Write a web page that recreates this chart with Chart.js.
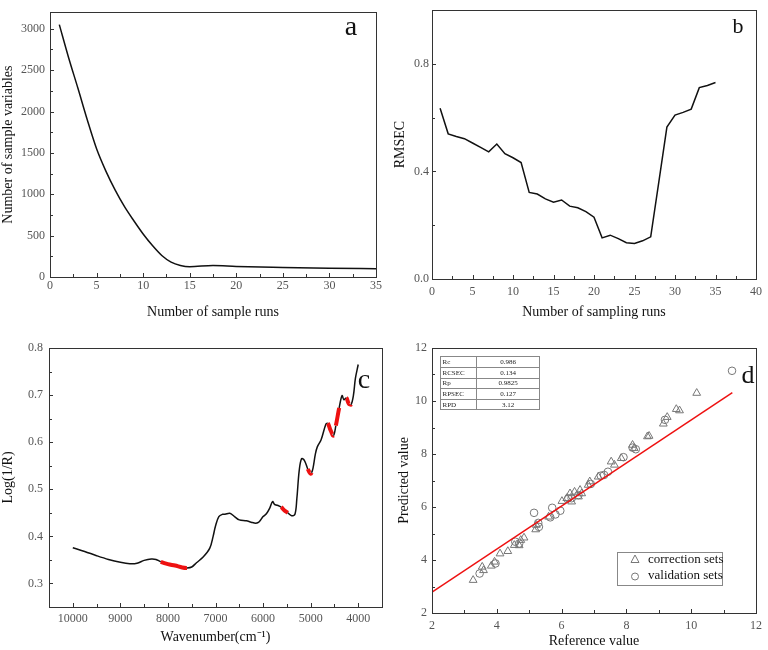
<!DOCTYPE html>
<html>
<head>
<meta charset="utf-8">
<script src="https://cdn.jsdelivr.net/npm/chart.js@4.4.0/dist/chart.umd.min.js"></script>
<style>
  body { margin: 0; background: #fff; }
  #wrap { position: relative; width: 768px; height: 650px; }
  canvas { position: absolute; }
</style>
</head>
<body>
<div id="wrap">
  <canvas id="chartA" width="384" height="325" style="left:0;top:0"></canvas>
  <canvas id="chartB" width="384" height="325" style="left:384px;top:0"></canvas>
  <canvas id="chartC" width="384" height="325" style="left:0;top:325px"></canvas>
  <canvas id="chartD" width="384" height="325" style="left:384px;top:325px"></canvas>
</div>
<script>
// ---- panel a: variables kept per sampling run
const runsA = [1, 2, 3, 4, 5, 6, 7, 8, 9, 10, 11, 12, 13, 14, 15, 17.5, 20, 25, 30, 35];
const variablesA = [3050, 2650, 2280, 1900, 1550, 1280, 1050, 850, 680, 520, 380, 260, 180, 140, 125, 138, 128, 116, 106, 100];
const xTicksA = [0, 5, 10, 15, 20, 25, 30, 35];
const yTicksA = [0, 500, 1000, 1500, 2000, 2500, 3000];

// ---- panel b: RMSEC per sampling run
const runsB = [1, 2, 3, 4, 5, 6, 7, 8, 9, 10, 11, 12, 13, 14, 15, 16, 17, 18, 19, 20, 21, 22, 23, 24, 25, 26, 27, 28, 29, 30, 31, 32, 33, 34, 35];
const rmsecB = [0.635, 0.54, 0.53, 0.522, 0.506, 0.49, 0.473, 0.502, 0.466, 0.451, 0.433, 0.322, 0.316, 0.298, 0.286, 0.294, 0.271, 0.265, 0.251, 0.23,
  0.153, 0.163, 0.15, 0.135, 0.132, 0.142, 0.157, 0.36, 0.565, 0.61, 0.62, 0.632, 0.712, 0.72, 0.731];
const xTicksB = [0, 5, 10, 15, 20, 25, 30, 35, 40];
const yTicksB = [0, 0.4, 0.8];

// ---- panel c: spectrum, red = selected wavenumber ranges
const wavenumberC = [10000, 9750, 9500, 9250, 9000, 8800, 8650, 8500, 8350, 8250, 8150, 8000, 7850, 7700, 7600, 7500, 7400, 7260, 7120, 7050,
  7000, 6930, 6850, 6800, 6700, 6600, 6500, 6350, 6250, 6150, 6080, 6000, 5930, 5860, 5800, 5760, 5700, 5620, 5550, 5480,
  5400, 5330, 5290, 5240, 5190, 5130, 5060, 5030, 5000, 4980, 4950, 4900, 4860, 4780, 4680, 4640, 4580, 4520, 4470, 4400,
  4340, 4300, 4250, 4200, 4150, 4100, 4060, 4000];
const absorbanceC = [0.376, 0.368, 0.359, 0.351, 0.345, 0.342, 0.343, 0.349, 0.352, 0.351, 0.346, 0.341, 0.338, 0.334, 0.333, 0.335, 0.344, 0.356, 0.375, 0.4,
  0.422, 0.442, 0.447, 0.447, 0.449, 0.442, 0.435, 0.433, 0.43, 0.428, 0.431, 0.442, 0.448, 0.46, 0.474, 0.468, 0.466, 0.462, 0.455, 0.45,
  0.444, 0.447, 0.48, 0.54, 0.565, 0.561, 0.543, 0.537, 0.533, 0.535, 0.545, 0.575, 0.59, 0.605, 0.638, 0.64, 0.625, 0.614, 0.635, 0.673,
  0.699, 0.69, 0.694, 0.682, 0.68, 0.7, 0.735, 0.765];
const redRangesC = [[8150, 7600], [5620, 5480], [5060, 4980], [4640, 4520], [4470, 4400], [4250, 4150]];
const xTicksC = [10000, 9000, 8000, 7000, 6000, 5000, 4000];
const yTicksC = [0.3, 0.4, 0.5, 0.6, 0.7, 0.8];

// ---- panel d: reference vs predicted
const corrRef = [3.27, 3.55, 3.59, 3.83, 3.93, 4.1, 4.34, 4.54, 4.69, 4.74, 4.84, 5.2, 5.22, 5.6, 6.01, 6.16, 6.26, 6.31, 6.4, 6.52,
  6.57, 6.62, 6.82, 6.87, 7.13, 7.53, 7.63, 7.84, 8.19, 8.24, 8.65, 8.7, 9.14, 9.26, 9.54, 9.64, 10.17];
const corrPred = [3.24, 3.74, 3.61, 3.78, 3.93, 4.24, 4.33, 4.56, 4.55, 4.75, 4.84, 5.15, 5.32, 5.63, 6.22, 6.33, 6.51, 6.2, 6.57, 6.39,
  6.64, 6.51, 6.83, 6.96, 7.14, 7.71, 7.59, 7.84, 8.34, 8.22, 8.66, 8.68, 9.14, 9.39, 9.69, 9.64, 10.3];
const valRef = [3.47, 3.96, 4.57, 4.69, 5.15, 5.3, 5.28, 5.71, 5.65, 5.81, 5.96, 6.21, 6.31, 6.52, 6.9, 7.21, 7.31, 7.43, 7.91, 8.19, 8.29, 9.19, 11.26];
const valPred = [3.49, 3.87, 4.69, 4.62, 5.78, 5.25, 5.4, 5.97, 5.61, 5.72, 5.86, 6.33, 6.33, 6.45, 6.87, 7.18, 7.21, 7.33, 7.88, 8.24, 8.18, 9.29, 11.14];
const fitX = [2, 11.27];
const fitY = [2.79, 10.32];
const tableNames = ['Rc', 'RCSEC', 'Rp', 'RPSEC', 'RPD'];
const tableValues = ['0.986', '0.134', '0.9825', '0.127', '3.12'];
const legendNames = ['correction sets', 'validation sets'];
const xTicksD = [2, 4, 6, 8, 10, 12];
const yTicksD = [2, 4, 6, 8, 10, 12];

const SERIF = "'Liberation Serif', 'Times New Roman', serif";
const tickFont = { family: SERIF, size: 12 };
const titleFont = { family: SERIF, size: 14 };
const tickColor = '#555';
const MARK = '#777';

const zip = (xs, ys) => xs.map((x, i) => ({ x: x, y: ys[i] }));

// frame, inward tick marks, panel letter and extras (table / legend)
const panelDecor = {
  id: 'panelDecor',
  afterDraw(chart, args, opts) {
    const { ctx, chartArea: a, scales } = chart;
    ctx.save();
    ctx.strokeStyle = '#333';
    ctx.lineWidth = 1;
    ctx.strokeRect(Math.round(a.left) + 0.5, Math.round(a.top) + 0.5, Math.round(a.width), Math.round(a.height));

    const marks = (scale) => {
      const vals = scale.ticks.map(t => t.value);
      const step = vals[1] - vals[0];
      const lo = Math.min(scale.min, scale.max), hi = Math.max(scale.min, scale.max);
      const out = [];
      vals.forEach(v => {
        out.push([v, 4]);
        const m = v + step / 2;
        if (m > lo && m < hi) out.push([m, 3]);
      });
      const m0 = vals[0] - step / 2;
      if (m0 > lo) out.push([m0, 3]);
      return out;
    };
    ctx.beginPath();
    marks(scales.x).forEach(([v, len]) => {
      const px = Math.round(scales.x.getPixelForValue(v)) + 0.5;
      ctx.moveTo(px, a.bottom);
      ctx.lineTo(px, a.bottom - len);
    });
    marks(scales.y).forEach(([v, len]) => {
      const py = Math.round(scales.y.getPixelForValue(v)) + 0.5;
      ctx.moveTo(a.left, py);
      ctx.lineTo(a.left + len, py);
    });
    ctx.stroke();

    ctx.fillStyle = '#111';
    ctx.textAlign = 'center';
    ctx.textBaseline = 'alphabetic';
    ctx.font = opts.letterSize + 'px ' + SERIF;
    ctx.fillText(opts.letter, opts.letterX, opts.letterY);

    if (opts.table) {
      const L = 56.5, T = 31.5, R = 155.5, C = 92.5, rh = 10.6;
      ctx.strokeStyle = '#888';
      ctx.strokeRect(L, T, R - L, rh * tableNames.length);
      ctx.beginPath();
      for (let i = 1; i < tableNames.length; i++) {
        ctx.moveTo(L, Math.round(T + rh * i) + 0.5);
        ctx.lineTo(R, Math.round(T + rh * i) + 0.5);
      }
      ctx.moveTo(C, T);
      ctx.lineTo(C, T + rh * tableNames.length);
      ctx.stroke();
      ctx.font = '7px ' + SERIF;
      ctx.fillStyle = '#222';
      ctx.textBaseline = 'middle';
      tableNames.forEach((n, i) => {
        ctx.textAlign = 'left';
        ctx.fillText(n, L + 2, T + rh * i + rh / 2 + 0.5);
        ctx.textAlign = 'center';
        ctx.fillText(tableValues[i], (C + R) / 2, T + rh * i + rh / 2 + 0.5);
      });
    }

    if (opts.legend) {
      ctx.strokeStyle = '#888';
      ctx.strokeRect(233.5, 227.5, 105, 33);
      ctx.strokeStyle = MARK;
      ctx.lineWidth = 1;
      ctx.beginPath();
      ctx.moveTo(251, 230);
      ctx.lineTo(255, 237.5);
      ctx.lineTo(247, 237.5);
      ctx.closePath();
      ctx.stroke();
      ctx.beginPath();
      ctx.arc(251, 251.5, 3.5, 0, Math.PI * 2);
      ctx.stroke();
      ctx.fillStyle = '#111';
      ctx.font = '13px ' + SERIF;
      ctx.textAlign = 'left';
      ctx.textBaseline = 'middle';
      ctx.fillText(legendNames[0], 264, 235);
      ctx.fillText(legendNames[1], 264, 251);
    }
    ctx.restore();
  }
};

function axis(opts) {
  return {
    type: 'linear',
    min: opts.min,
    max: opts.max,
    reverse: !!opts.reverse,
    afterFit(s) { if (opts.width) s.width = opts.width; if (opts.height) s.height = opts.height; },
    afterBuildTicks(s) { s.ticks = opts.ticks.map(v => ({ value: v })); },
    grid: { display: false, drawTicks: false, tickLength: 0 },
    border: { display: false },
    ticks: {
      font: tickFont,
      color: tickColor,
      padding: opts.pad,
      maxRotation: 0,
      autoSkip: false,
      callback: opts.fmt || (v => v)
    },
    title: {
      display: true,
      text: opts.title,
      font: titleFont,
      color: '#111',
      padding: opts.titlePad
    }
  };
}

function baseOptions(padding, decor, scales) {
  return {
    responsive: false,
    animation: false,
    layout: { padding: padding },
    plugins: { legend: { display: false }, tooltip: { enabled: false }, panelDecor: decor },
    scales: scales
  };
}

// panel a
new Chart(document.getElementById('chartA'), {
  type: 'line',
  data: {
    datasets: [{
      data: zip(runsA, variablesA),
      borderColor: '#111',
      borderWidth: 1.5,
      pointRadius: 0,
      cubicInterpolationMode: 'monotone'
    }]
  },
  options: baseOptions({ left: 0, right: 7, top: 3, bottom: 0 },
    { letter: 'a', letterX: 351, letterY: 35, letterSize: 28 },
    {
      x: axis({ min: 0, max: 35, ticks: xTicksA, height: 48, pad: 2, title: 'Number of sample runs', titlePad: { top: 0, bottom: 4 } }),
      y: axis({ min: 0, max: 3200, ticks: yTicksA, width: 50, pad: 5, title: 'Number of sample variables', titlePad: { top: 0, bottom: 0 } })
    }),
  plugins: [panelDecor]
});

// panel b
new Chart(document.getElementById('chartB'), {
  type: 'line',
  data: {
    datasets: [{
      data: zip(runsB, rmsecB),
      borderColor: '#111',
      borderWidth: 1.5,
      pointRadius: 0,
      tension: 0
    }]
  },
  options: baseOptions({ left: 0, right: 7, top: 6, bottom: 0 },
    { letter: 'b', letterX: 354, letterY: 33, letterSize: 22 },
    {
      x: axis({ min: 0, max: 40, ticks: xTicksB, height: 46, pad: 6, title: 'Number of sampling runs', titlePad: { top: 0, bottom: 4 } }),
      y: axis({ min: 0, max: 1.0, ticks: yTicksB, width: 48, pad: 3, fmt: v => v.toFixed(1), title: 'RMSEC', titlePad: { top: 8, bottom: 0 } })
    }),
  plugins: [panelDecor]
});

// panel c
const inRed = (a, b) => redRangesC.some(([hi, lo]) => a <= hi && a >= lo && b <= hi && b >= lo);
new Chart(document.getElementById('chartC'), {
  type: 'line',
  data: {
    datasets: [{
      data: zip(wavenumberC, absorbanceC),
      borderColor: '#111',
      borderWidth: 1.5,
      pointRadius: 0,
      tension: 0.35,
      segment: {
        borderColor: ctx => inRed(ctx.p0.parsed.x, ctx.p1.parsed.x) ? '#ee1111' : '#111',
        borderWidth: ctx => inRed(ctx.p0.parsed.x, ctx.p1.parsed.x) ? 4 : 1.5
      }
    }]
  },
  options: baseOptions({ left: 0, right: 2, top: 23, bottom: 0 },
    { letter: 'c', letterX: 364, letterY: 63, letterSize: 28 },
    {
      x: axis({ min: 3500, max: 10500, reverse: true, ticks: xTicksC, height: 43, pad: 5, title: 'Wavenumber(cm\u207B\u00B9)', titlePad: { top: 0, bottom: 4 } }),
      y: axis({ min: 0.25, max: 0.8, ticks: yTicksC, width: 49, pad: 6, fmt: v => v.toFixed(1), title: 'Log(1/R)', titlePad: { top: 0, bottom: 0 } })
    }),
  plugins: [panelDecor]
});

// panel d
new Chart(document.getElementById('chartD'), {
  type: 'scatter',
  data: {
    datasets: [
      {
        type: 'line',
        data: zip(fitX, fitY),
        borderColor: '#ee1111',
        borderWidth: 1.5,
        pointRadius: 0
      },
      {
        label: legendNames[0],
        data: zip(corrRef, corrPred),
        pointStyle: 'triangle',
        pointRadius: 4.5,
        borderColor: MARK,
        borderWidth: 1,
        backgroundColor: 'rgba(0,0,0,0)'
      },
      {
        label: legendNames[1],
        data: zip(valRef, valPred),
        pointStyle: 'circle',
        pointRadius: 3.8,
        borderColor: MARK,
        borderWidth: 1,
        backgroundColor: 'rgba(0,0,0,0)'
      }
    ]
  },
  options: baseOptions({ left: 0, right: 7, top: 23, bottom: 0 },
    { letter: 'd', letterX: 364, letterY: 58, letterSize: 26, table: true, legend: true },
    {
      x: axis({ min: 2, max: 12, ticks: xTicksD, height: 37, pad: 6, title: 'Reference value', titlePad: { top: 0, bottom: 0 } }),
      y: axis({ min: 2, max: 12, ticks: yTicksD, width: 48, pad: 5, title: 'Predicted value', titlePad: { top: 12, bottom: 0 } })
    }),
  plugins: [panelDecor]
});
</script>
</body>
</html>
